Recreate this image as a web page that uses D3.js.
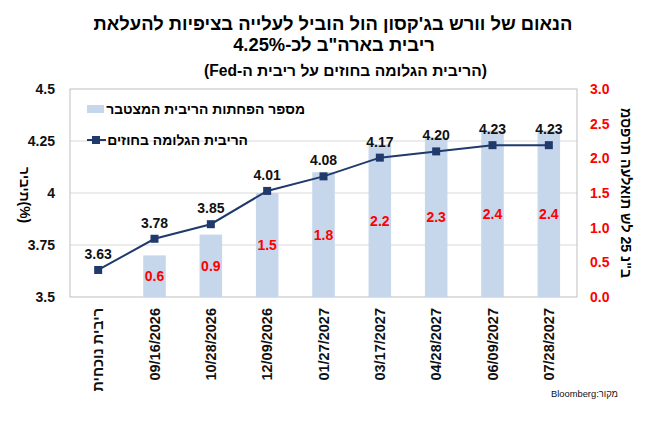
<!DOCTYPE html>
<html><head><meta charset="utf-8">
<script src="https://cdn.jsdelivr.net/npm/d3@7"></script>
<style>
html,body{margin:0;padding:0;background:#fff;}
svg{font-family:"Liberation Sans",Arial,sans-serif;}
</style></head>
<body><svg id="c" width="654" height="432"></svg>
<script>
const categories = ["ריבית נוכחית","09/16/2026","10/28/2026","12/09/2026","01/27/2027","03/17/2027","04/28/2027","06/09/2027","07/28/2027"];
const impliedRate = [3.63,3.78,3.85,4.01,4.08,4.17,4.20,4.23,4.23];
const cumulativeMoves = [null,0.6,0.9,1.5,1.8,2.2,2.3,2.4,2.4];
const leftTicks = [3.5,3.75,4,4.25,4.5];
const rightTicks = [0,0.5,1,1.5,2,2.5,3];
const titleLines = ["הנאום של וורש בג'קסון הול הוביל לעלייה בציפיות להעלאת","ריבית בארה\"ב לכ-4.25%"];
const subtitle = "(הריבית הגלומה בחוזים על ריבית ה-Fed)";
const legendLabels = ["מספר הפחתות הריבית המצטבר","הריבית הגלומה בחוזים"];
const leftTitle = "ריבית(%)";
const rightTitle = "מספרת העלאות של 25 נ\"ב";
const sourceText = "מקור:Bloomberg";

const svg = d3.select("#c");
const L=70,R=577,T=89,B=297;
const navy="#1f3a6b", barCol="#c6d6eb", grid="#d9d9d9";
const LRO="\u202D", PDF="\u202C";

function fit(sel, target){
  const fs = +sel.attr("font-size");
  const w = sel.node().getComputedTextLength();
  const nf = fs*target/w;
  sel.attr("font-size", nf);
  return nf;
}

const x = d3.scaleBand().domain(categories).range([L,R]).padding(0);
const yL = d3.scaleLinear().domain([3.5,4.5]).range([B,T]);
const yR = d3.scaleLinear().domain([0,3]).range([B,T]);

// title
const t1 = svg.append("text").attr("x",333).attr("y",30).attr("text-anchor","middle")
  .attr("direction","rtl").attr("font-size",19).attr("font-weight","bold").text(titleLines[0]);
const tfs = fit(t1, 479);
svg.append("text").attr("x",334).attr("y",51).attr("text-anchor","middle")
  .attr("direction","rtl").attr("font-size",tfs).attr("font-weight","bold").text(titleLines[1]);
const st = svg.append("text").attr("x",345.5).attr("y",76).attr("text-anchor","middle")
  .attr("direction","rtl").attr("font-size",13).attr("font-weight","bold").text(subtitle);
fit(st, 283);

// gridlines
svg.append("g").selectAll("line").data(leftTicks.slice(1,-1)).join("line")
  .attr("x1",L).attr("x2",R).attr("y1",d=>yL(d)).attr("y2",d=>yL(d))
  .attr("stroke",grid).attr("stroke-width",1);

// frame
svg.append("rect").attr("x",L).attr("y",T).attr("width",R-L).attr("height",B-T)
  .attr("fill","none").attr("stroke","#bfbfbf").attr("stroke-width",1);

// bars
const bw = x.bandwidth()*0.4;
const barData = categories.map((c,i)=>({c,v:cumulativeMoves[i]})).filter(d=>d.v!=null);
svg.append("g").selectAll("rect").data(barData).join("rect")
  .attr("x",d=>x(d.c)+x.bandwidth()/2-bw/2).attr("width",bw)
  .attr("y",d=>yR(d.v)).attr("height",d=>B-yR(d.v)).attr("fill",barCol);

// line
const pts = categories.map((c,i)=>({c,v:impliedRate[i]}));
const line = d3.line().x(d=>x(d.c)+x.bandwidth()/2).y(d=>yL(d.v));
svg.append("path").datum(pts).attr("d",line).attr("fill","none").attr("stroke",navy).attr("stroke-width",2);
svg.append("g").selectAll("rect").data(pts).join("rect")
  .attr("x",d=>x(d.c)+x.bandwidth()/2-4).attr("y",d=>yL(d.v)-4)
  .attr("width",8).attr("height",8).attr("fill",navy);

// line labels
svg.append("g").selectAll("text").data(pts).join("text")
  .attr("x",d=>x(d.c)+x.bandwidth()/2).attr("y",d=>yL(d.v)-11)
  .attr("text-anchor","middle").attr("font-size",14).attr("font-weight","bold").attr("fill","#111")
  .text(d=>d3.format(".2f")(d.v));

// bar labels
svg.append("g").selectAll("text").data(barData).join("text")
  .attr("x",d=>x(d.c)+x.bandwidth()/2).attr("y",d=>(yR(d.v)+B)/2)
  .attr("dy","0.36em").attr("text-anchor","middle").attr("font-size",14).attr("font-weight","bold")
  .attr("fill","#ff0000").text(d=>d3.format(".1f")(d.v));

// left axis
const axL = svg.append("g").attr("transform",`translate(${L},0)`)
  .call(d3.axisLeft(yL).tickValues(leftTicks).tickSize(0).tickPadding(15).tickFormat(d3.format("")));
axL.select(".domain").remove();
axL.selectAll("text").attr("font-size",14).attr("font-weight","bold").attr("fill","#111")
  .style("font-family","Liberation Sans, Arial, sans-serif");

// right axis
const axR = svg.append("g").attr("transform",`translate(${R},0)`)
  .call(d3.axisRight(yR).tickValues(rightTicks).tickSize(0).tickPadding(13).tickFormat(d3.format(".1f")));
axR.select(".domain").remove();
axR.selectAll("text").attr("font-size",14).attr("font-weight","bold").attr("fill","#ff0000")
  .style("font-family","Liberation Sans, Arial, sans-serif");

// x axis labels
const axX = svg.append("g").attr("transform",`translate(0,${B})`)
  .call(d3.axisBottom(x).tickSize(0).tickPadding(0));
axX.select(".domain").remove();
axX.selectAll("text").attr("transform","translate(0,11) rotate(-90)").attr("text-anchor","end")
  .attr("x",0).attr("y",0).attr("dy","0.35em")
  .attr("font-size",14.5).attr("font-weight","bold").attr("fill","#111")
  .style("font-family","Liberation Sans, Arial, sans-serif");
axX.selectAll(".tick text").filter((d,i)=>i===0).attr("direction","rtl").attr("text-anchor","start");

// axis titles (glyphs run top-to-bottom in logical order)
const lt = svg.append("text").attr("transform","translate(25,195) rotate(90)").attr("text-anchor","middle")
  .attr("dy","0.35em").attr("font-size",14).attr("font-weight","bold").text(LRO+leftTitle+PDF);
fit(lt, 56);
const rt = svg.append("text").attr("transform","translate(626,193) rotate(90)").attr("text-anchor","middle")
  .attr("dy","0.35em").attr("font-size",14).attr("font-weight","bold").text(LRO+rightTitle+PDF);
fit(rt, 170);

// legend
const lg = svg.append("g");
lg.append("rect").attr("x",87).attr("y",105).attr("width",17).attr("height",8).attr("fill",barCol);
const l1 = lg.append("text").attr("x",305).attr("y",109).attr("dy","0.35em").attr("direction","rtl").attr("text-anchor","start")
  .attr("font-size",13).attr("font-weight","bold").text(legendLabels[0]);
fit(l1, 199);
lg.append("line").attr("x1",87).attr("x2",106).attr("y1",140).attr("y2",140).attr("stroke",navy).attr("stroke-width",2);
lg.append("rect").attr("x",92).attr("y",136).attr("width",8).attr("height",8).attr("fill",navy);
const l2 = lg.append("text").attr("x",248).attr("y",140).attr("dy","0.35em").attr("direction","rtl").attr("text-anchor","start")
  .attr("font-size",13).attr("font-weight","bold").text(legendLabels[1]);
fit(l2, 141);

// source
const src = svg.append("text").attr("x",618).attr("y",394).attr("dy","0.35em").attr("direction","rtl").attr("text-anchor","start")
  .attr("font-size",9.5).attr("fill","#111").text(sourceText);
fit(src, 67);
</script></body></html>
